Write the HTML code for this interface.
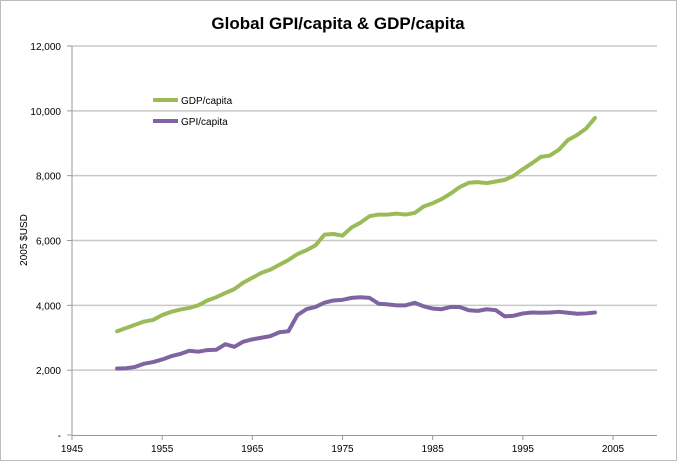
<!DOCTYPE html>
<html><head><meta charset="utf-8"><style>
body{margin:0;background:#fff;}
svg{display:block;font-family:"Liberation Sans",Arial,sans-serif;}
</style></head><body>
<svg id="chart" width="677" height="461">
<rect x="0.5" y="0.5" width="676" height="460" fill="#fff" stroke="#bdbdbd"/>
<text x="338" y="29" text-anchor="middle" font-size="17" font-weight="bold" fill="#000">Global GPI/capita &amp; GDP/capita</text>
<text transform="translate(27,240) rotate(-90)" text-anchor="middle" font-size="10" fill="#000">2005 $USD</text>
<g id="grid"></g><g id="series"></g>
<g>
<line x1="153" y1="100" x2="178" y2="100" stroke="#9bbb59" stroke-width="4"/>
<text x="181" y="104" font-size="10">GDP/capita</text>
<line x1="153" y1="121" x2="178" y2="121" stroke="#8064a2" stroke-width="4"/>
<text x="181" y="125" font-size="10">GPI/capita</text>
</g>
</svg>
<script>
const years=[];for(let y=1950;y<=2003;y++)years.push(y);
const gdp=[3200,3300,3400,3500,3550,3700,3800,3870,3920,4000,4150,4250,4380,4500,4700,4850,5000,5100,5250,5400,5580,5700,5850,6180,6200,6150,6400,6550,6750,6800,6800,6830,6800,6850,7050,7150,7280,7450,7650,7780,7800,7770,7820,7870,8000,8200,8380,8580,8620,8800,9100,9250,9450,9780];
const gpi=[2050,2060,2100,2200,2250,2330,2430,2500,2600,2570,2620,2630,2800,2720,2880,2950,3000,3050,3170,3200,3700,3880,3950,4080,4150,4170,4230,4250,4230,4050,4030,4000,4000,4080,3970,3900,3880,3950,3950,3850,3830,3880,3850,3660,3680,3750,3780,3770,3780,3800,3770,3740,3750,3780];
const yTicks=[0,2000,4000,6000,8000,10000,12000];
const yTickLabels=["-","2,000","4,000","6,000","8,000","10,000","12,000"];
const xTicks=[1945,1955,1965,1975,1985,1995,2005];
const NS="http://www.w3.org/2000/svg";
const X=v=>72+(v-1945)*(613-72)/60;
const Y=v=>435-v*(435-46)/12000;
const grid=document.getElementById('grid'),ser=document.getElementById('series');
function mk(t,a,p){const e=document.createElementNS(NS,t);for(const k in a)e.setAttribute(k,a[k]);p.appendChild(e);return e;}
yTicks.forEach((v,i)=>{
 if(v>0){const l=mk('line',{x1:72,x2:657,y1:Y(v),y2:Y(v),stroke:'#c8c8c8','stroke-width':1.5},grid);
 
 }
 const tk=mk('line',{x1:67,x2:72,y1:Y(v),y2:Y(v),stroke:'#999'},grid);
 
 
 const t=mk('text',{x:61,y:Y(v)+4,'text-anchor':'end','font-size':10},grid);t.textContent=yTickLabels[i];
 
 
});
const ax=mk('line',{x1:72,x2:72,y1:46,y2:436,stroke:'#999'},grid);


const bx=mk('line',{x1:72,x2:657,y1:435.5,y2:435.5,stroke:'#999'},grid);


xTicks.forEach(v=>{
 const tk=mk('line',{x1:X(v),x2:X(v),y1:435,y2:440,stroke:'#999'},grid);
 
 
 const t=mk('text',{x:X(v),y:452,'text-anchor':'middle','font-size':10},grid);t.textContent=v;
 
 
});
function line(vals,color,name){
 const p=mk('polyline',{points:vals.map((v,i)=>X(years[i])+','+Y(v)).join(' '),fill:'none',stroke:color,'stroke-width':4,'stroke-linejoin':'round','stroke-linecap':'round'},ser);
 
 
}
line(gdp,'#9bbb59','gdp-line');
line(gpi,'#8064a2','gpi-line');
</script>
</body></html>
